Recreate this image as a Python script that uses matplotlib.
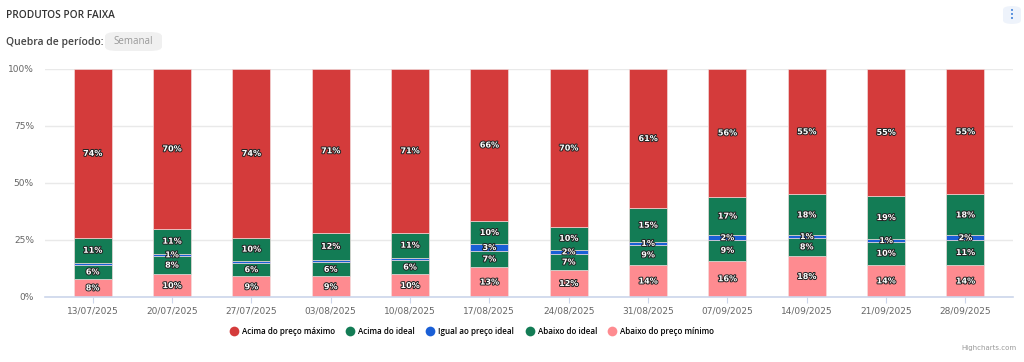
import numpy as np
import matplotlib.pyplot as plt
import matplotlib.patheffects as pe
from matplotlib.patches import FancyBboxPatch
from matplotlib.lines import Line2D

# Dados (percentuais)
semanas = ['13/07/2025', '20/07/2025', '27/07/2025', '03/08/2025', '10/08/2025', '17/08/2025',
           '24/08/2025', '31/08/2025', '07/09/2025', '14/09/2025', '21/09/2025', '28/09/2025']
abaixo_minimo = [8, 10, 9, 9, 10, 13, 12, 14, 16, 18, 14, 14]
abaixo_ideal = [6, 8, 6, 6, 6, 7, 7, 9, 9, 8, 10, 11]
igual_ideal = [1, 1, 1, 1, 1, 3, 2, 1, 2, 1, 1, 2]
igual_rotulo = [False, True, False, False, False, True, True, True, True, True, True, True]
acima_ideal = [11, 11, 10, 12, 11, 10, 10, 15, 17, 18, 19, 18]
acima_maximo = [74, 70, 74, 71, 71, 66, 70, 61, 56, 55, 55, 55]

series = [
    ('Abaixo do preço mínimo', abaixo_minimo, '#fe8b90'),
    ('Abaixo do ideal', abaixo_ideal, '#137c55'),
    ('Igual ao preço ideal', igual_ideal, '#1a5fd6'),
    ('Acima do ideal', acima_ideal, '#137c55'),
    ('Acima do preço máximo', acima_maximo, '#d43b3b'),
]

fig = plt.figure(figsize=(10.24, 3.62), dpi=100, facecolor='white')
ax = fig.add_axes([45 / 1024, 1 - 297 / 362, 968 / 1024, 228 / 362])

x = np.arange(len(semanas))
total = np.sum([np.array(s[1], dtype=float) for s in series], axis=0)
base = np.zeros(len(semanas))
contorno = [pe.withStroke(linewidth=1.4, foreground='#222222')]

for nome, valores, cor in series:
    alt = np.array(valores, dtype=float) / total * 100
    ax.bar(x, alt, bottom=base, width=0.48, color=cor, edgecolor='#f4dede', linewidth=0.45, zorder=3)
    for i, v in enumerate(valores):
        if nome == 'Igual ao preço ideal' and not igual_rotulo[i]:
            continue
        ax.text(x[i], base[i] + alt[i] / 2, f'{v}%', ha='center', va='center',
                fontsize=5.8, fontweight='bold', color='white', path_effects=contorno, zorder=4)
    base += alt

ax.set_xlim(-0.6, 11.6)
ax.set_ylim(0, 100)
ax.set_yticks([0, 25, 50, 75, 100])
ax.set_yticklabels(['0%', '25%', '50%', '75%', '100%'])
ax.set_xticks(x)
ax.set_xticklabels(semanas)
ax.tick_params(axis='y', length=0, labelsize=6.5, labelcolor='#666666', pad=8)
ax.tick_params(axis='x', length=4, color='#ccd6eb', labelsize=6.5, labelcolor='#666666', pad=3)
ax.yaxis.grid(True, color='#e9e9e9', linewidth=1, zorder=0)
for lado in ['top', 'right', 'left']:
    ax.spines[lado].set_visible(False)
ax.spines['bottom'].set_color('#ccd6eb')
ax.spines['bottom'].set_linewidth(1.2)
ax.spines['bottom'].set_zorder(5)

# Cabeçalho
fig.text(6 / 1024, 1 - 15 / 362, 'PRODUTOS POR FAIXA', fontsize=7.3, fontweight='semibold',
         color='#333333', va='center', family='Open Sans')
fig.text(6 / 1024, 1 - 42 / 362, 'Quebra de período:', fontsize=7.5, fontweight='semibold',
         color='#444444', va='center', family='Open Sans')
caixa = FancyBboxPatch((105 / 1024, 1 - 51 / 362), 57 / 1024, 19 / 362,
                       boxstyle='round,pad=0,rounding_size=0.012', transform=fig.transFigure,
                       facecolor='#f0f0f0', edgecolor='none')
fig.patches.append(caixa)
fig.text(133.5 / 1024, 1 - 42 / 362, 'Semanal', fontsize=7, color='#999999', ha='center',
         va='center', family='Open Sans')

# Menu
menu = FancyBboxPatch((1003 / 1024, 1 - 24 / 362), 18 / 1024, 18 / 362,
                      boxstyle='round,pad=0,rounding_size=0.01', transform=fig.transFigure,
                      facecolor='#eef3fb', edgecolor='none')
fig.patches.append(menu)
for dy in [-4, 0, 4]:
    fig.text(1012 / 1024, 1 - (15 + dy) / 362, '•', fontsize=5, color='#3b7dd8',
             ha='center', va='center')

# Legenda
ordem = [4, 3, 2, 1, 0]
handles = [Line2D([], [], marker='o', linestyle='', markersize=7,
                  markerfacecolor=series[k][2], markeredgecolor='none') for k in ordem]
labels = [series[k][0] for k in ordem]
fig.legend(handles, labels, loc='center', bbox_to_anchor=(472 / 1024, 1 - 331 / 362), ncol=5,
           frameon=False, handletextpad=0.5, columnspacing=1.4, handlelength=1.0,
           prop={'family': 'Open Sans', 'size': 5.8, 'weight': 'semibold'})

fig.text(1016 / 1024, 1 - 348 / 362, 'Highcharts.com', fontsize=5, color='#999999',
         ha='right', va='center')

fig.savefig('out.png', dpi=100, facecolor='white')
